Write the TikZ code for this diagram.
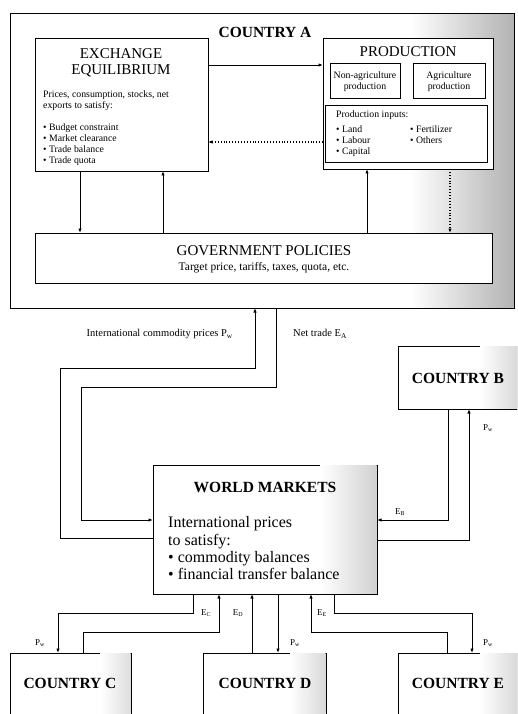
\documentclass[tikz,border=0pt]{standalone}
\usepackage{fontspec}
\setmainfont{Liberation Serif}
\usetikzlibrary{arrows.meta,shadows}
\begin{document}
\begin{tikzpicture}[x=1pt,y=-1pt,
  box/.style={draw, fill=white, line width=0.7pt, inner sep=0pt, outer sep=0pt, anchor=north west},
  shbox/.style={box, drop shadow={shadow xshift=1.3pt, shadow yshift=-1.3pt, fill=black, opacity=0.85}},
  edge/.style={line width=0.7pt},
  conn/.style={line width=0.9pt},
  arr/.style={conn, -{Latex[length=4.5pt,width=3.4pt]}},
  darr/.style={arr, dotted, line width=1.2pt},
  ttl/.style={inner sep=0pt, font=\bfseries\fontsize{15.5}{18}\selectfont},
  hd/.style={inner sep=0pt, font=\fontsize{15}{17}\selectfont},
  body/.style={inner sep=0pt, anchor=base west, font=\fontsize{9.8}{11}\selectfont},
  bodyc/.style={inner sep=0pt, anchor=base, font=\fontsize{9.8}{11}\selectfont},
  wbody/.style={inner sep=0pt, anchor=base west, font=\fontsize{16}{18}\selectfont},
  lbl/.style={inner sep=0pt, font=\fontsize{10.5}{12}\selectfont},
  slbl/.style={inner sep=0pt, font=\fontsize{9}{10}\selectfont},
  shd/.style={left color=white, right color=black!#1}
]
\clip (0,0) rectangle (517,714);
\fill[white] (0,0) rectangle (517,714);

% ---------- Country A ----------
\node[shbox, minimum width=504pt, minimum height=295pt] (ctyA) at (10,13) {};
\shade[shd=30] (410,14) rectangle (513.6,307.6);
\draw[edge] (ctyA.north west) rectangle (ctyA.south east);
\node[ttl] (tA) at (265,32) {COUNTRY A};

\node[shbox, minimum width=173pt, minimum height=133pt] (exch) at (35,38) {};
\node[shbox, minimum width=170pt, minimum height=131pt] (prod) at (323,38) {};
\node[box, minimum width=70pt, minimum height=35pt] (nonag) at (330,63) {};
\node[box, minimum width=72pt, minimum height=35pt] (agri) at (413,63) {};
\node[box, minimum width=162pt, minimum height=57pt] (inputs) at (325,105) {};
\node[shbox, minimum width=457pt, minimum height=50pt] (gov) at (35,233) {};

\node[hd] (tEx1) at (121,54) {EXCHANGE};
\node[hd] (tEx2) at (121,71) {EQUILIBRIUM};
\node[body] (ex1) at (43,98) {Prices, consumption, stocks, net};
\node[body] (ex2) at (43,109) {exports to satisfy:};
\node[body] (ex3) at (43,131) {• Budget constraint};
\node[body] (ex4) at (43,142) {• Market clearance};
\node[body] (ex5) at (43,153) {• Trade balance};
\node[body] (ex6) at (43,164) {• Trade quota};

\node[hd] (tPr) at (408,52) {PRODUCTION};
\node[bodyc] (na1) at (365,79) {Non-agriculture};
\node[bodyc] (na2) at (365,90) {production};
\node[bodyc] (ag1) at (449,79) {Agriculture};
\node[bodyc] (ag2) at (449,90) {production};
\node[body] (in0) at (336,118) {Production inputs:};
\node[body] (in1) at (336,133) {• Land};
\node[body] (in2) at (336,144) {• Labour};
\node[body] (in3) at (336,155) {• Capital};
\node[body] (in4) at (410,133) {• Fertilizer};
\node[body] (in5) at (410,144) {• Others};

\node[hd] (tGov1) at (264,251) {GOVERNMENT POLICIES};
\node[inner sep=0pt, font=\fontsize{11.5}{13}\selectfont] (tGov2) at (264,268) {Target price, tariffs, taxes, quota, etc.};

\draw[arr] (exch.east |- 0,65) -- (prod.west |- 0,65);
\draw[darr] (prod.west |- 0,142) -- (exch.east |- 0,142);
\draw[arr] (exch.south -| 80,0) -- (gov.north -| 80,0);
\draw[arr] (gov.north -| 163,0) -- (exch.south -| 163,0);
\draw[arr] (gov.north -| 367,0) -- (prod.south -| 367,0);
\draw[darr] (prod.south -| 450,0) -- (gov.north -| 450,0);

% ---------- World markets ----------
\node[shbox, minimum width=224pt, minimum height=129pt] (world) at (153,465) {};
\shade[shd=18] (320,465.5) rectangle (376.5,593.5);
\node[ttl] (tW) at (265,487) {WORLD MARKETS};
\node[wbody] (w1) at (168,527) {International prices};
\node[wbody] (w2) at (168,545) {to satisfy:};
\node[wbody] (w3) at (168,562) {• commodity balances};
\node[wbody] (w4) at (168,579) {• financial transfer balance};

% ---------- Other countries ----------
\node[shbox, minimum width=130pt, minimum height=63pt] (ctyB) at (398,346) {};
\shade[shd=15] (480,346.5) rectangle (517,408.5);
\node[ttl] (tB) at (458,378) {COUNTRY B};

\node[shbox, minimum width=121pt, minimum height=80pt] (ctyC) at (10,653) {};
\shade[shd=13] (100,653.5) rectangle (130.5,714);
\node[ttl] (tC) at (70,683) {COUNTRY C};

\node[shbox, minimum width=123pt, minimum height=80pt] (ctyD) at (203,653) {};
\shade[shd=15] (290,653.5) rectangle (325.5,714);
\node[ttl] (tD) at (265,683) {COUNTRY D};

\node[shbox, minimum width=130pt, minimum height=80pt] (ctyE) at (398,653) {};
\shade[shd=15] (480,653.5) rectangle (517,714);
\node[ttl] (tE) at (458,683) {COUNTRY E};

% ---------- Country A <-> World ----------
\draw[arr] (world.west |- 0,538) -- (60,538) -- (60,368) -- (255,368) -- (ctyA.south -| 255,0);
\draw[arr] (ctyA.south -| 276,0) -- (276,387) -- (81,387) -- (81,520) -- (world.west |- 0,520);
\node[lbl, anchor=east] (lPA) at (233,334) {International commodity prices P\textsubscript{w}};
\node[lbl, anchor=west] (lEA) at (293,334) {Net trade E\textsubscript{A}};

% ---------- Country B <-> World ----------
\draw[arr] (ctyB.south -| 448,0) -- (448,520) -- (world.east |- 0,520);
\draw[arr] (world.east |- 0,540) -- (469,540) -- (ctyB.south -| 469,0);
\node[slbl] (lPB) at (488,428) {P\textsubscript{w}};
\node[slbl] (lEB) at (400,512) {E\textsubscript{B}};

% ---------- Bottom countries ----------
\draw[arr] (world.south -| 193,0) -- (193,613) -- (58,613) -- (ctyC.north -| 58,0);
\draw[arr] (ctyC.north -| 83,0) -- (83,632) -- (219,632) -- (world.south -| 219,0);
\draw[arr] (ctyD.north -| 252,0) -- (world.south -| 252,0);
\draw[arr] (world.south -| 278,0) -- (ctyD.north -| 278,0);
\draw[arr] (ctyE.north -| 447,0) -- (447,632) -- (311,632) -- (world.south -| 311,0);
\draw[arr] (world.south -| 334,0) -- (334,613) -- (472,613) -- (ctyE.north -| 472,0);

\node[slbl] (lEC) at (206,613) {E\textsubscript{C}};
\node[slbl] (lED) at (238,613) {E\textsubscript{D}};
\node[slbl] (lEE) at (322,613) {E\textsubscript{E}};
\node[slbl] (lPC) at (40,643) {P\textsubscript{w}};
\node[slbl] (lPD) at (295,643) {P\textsubscript{w}};
\node[slbl] (lPE) at (488,643) {P\textsubscript{w}};
\end{tikzpicture}
\end{document}
